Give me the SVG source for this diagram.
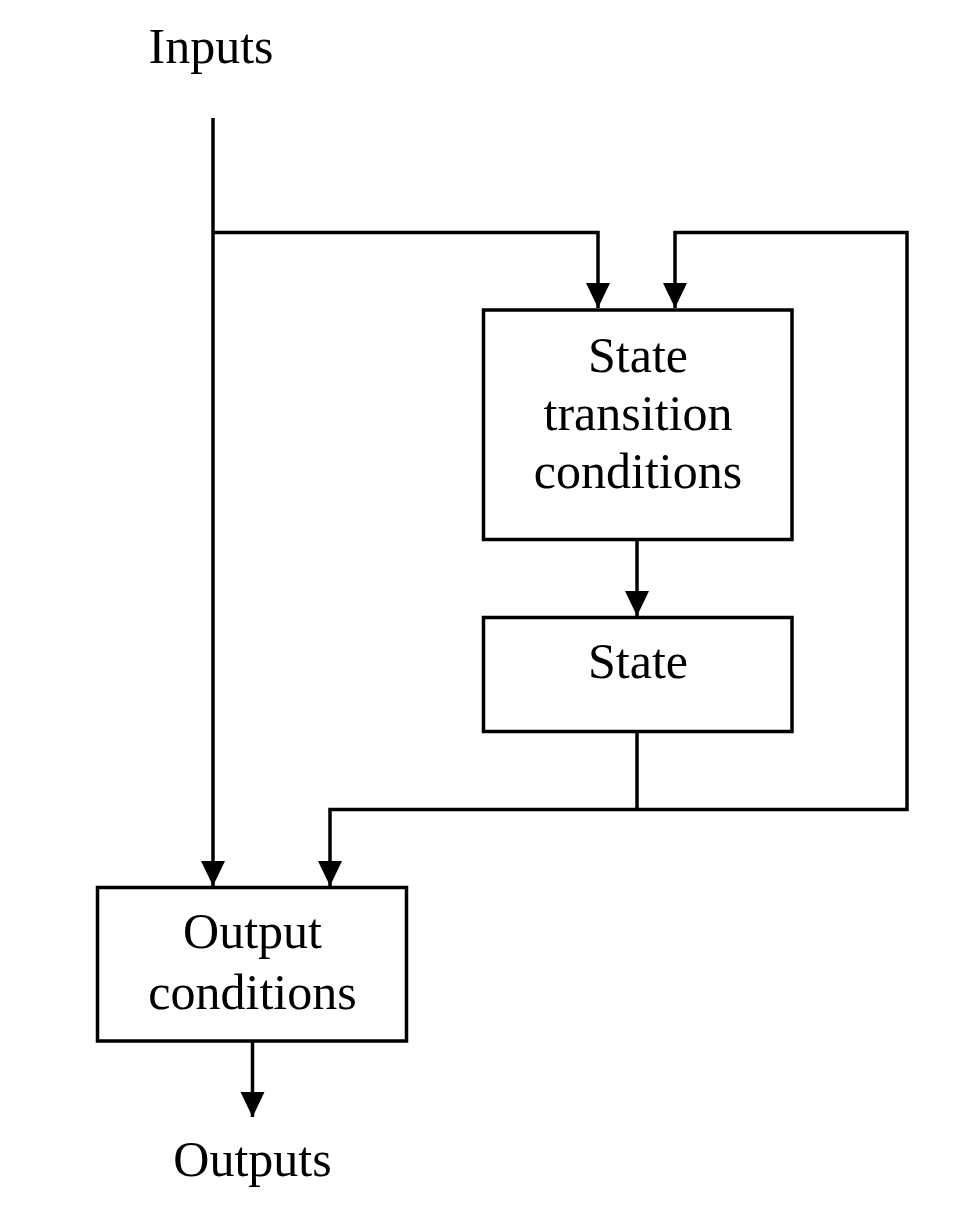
<svg xmlns="http://www.w3.org/2000/svg" width="956" height="1205" viewBox="0 0 956 1205">
<style>
.box{fill:#fff;stroke:#000;stroke-width:3.5}
.ln{fill:none;stroke:#000;stroke-width:3.5;stroke-linejoin:miter}
.t{font-family:"Liberation Serif","Times New Roman",serif;font-size:50px;fill:#000;text-anchor:middle}
</style>
<defs>
<marker id="ah" markerUnits="userSpaceOnUse" markerWidth="26" markerHeight="26" refX="25" refY="12" orient="auto-start-reverse" viewBox="0 0 26 24">
<path d="M0,0 L25,12 L0,24 z" fill="#000"/>
</marker>
</defs>
<rect width="956" height="1205" fill="#fff"/>
<g id="connectors">
<path class="ln" d="M213,118 V886" marker-end="url(#ah)"/>
<path class="ln" d="M213,232.5 H598 V308" marker-end="url(#ah)"/>
<path class="ln" d="M637,731.5 V809.5"/>
<path class="ln" d="M330,886 V809.5 H907 V232.5 H675 V308" marker-start="url(#ah)" marker-end="url(#ah)"/>
<path class="ln" d="M637,539.5 V616" marker-end="url(#ah)"/>
<path class="ln" d="M252.5,1041 V1117" marker-end="url(#ah)"/>
</g>
<g id="inputs"><text class="t" x="211" y="63">Inputs</text></g>
<g id="stc">
<rect class="box" x="483.5" y="310" width="308.5" height="229.5"/>
<text class="t" x="638" y="372">State</text>
<text class="t" x="638" y="430">transition</text>
<text class="t" x="638" y="488">conditions</text>
</g>
<g id="state">
<rect class="box" x="483.5" y="617.5" width="308.5" height="114"/>
<text class="t" x="638" y="678">State</text>
</g>
<g id="output-conditions">
<rect class="box" x="97.5" y="887.5" width="309" height="153.5"/>
<text class="t" x="252.5" y="948">Output</text>
<text class="t" x="252.5" y="1009">conditions</text>
</g>
<g id="outputs"><text class="t" x="252.5" y="1176">Outputs</text></g>
</svg>
